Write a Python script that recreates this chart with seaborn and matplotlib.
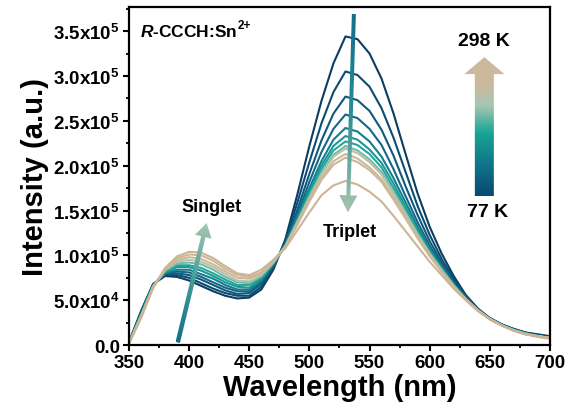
import numpy as np
import pandas as pd
import matplotlib
matplotlib.use("Agg")
import matplotlib.pyplot as plt
import seaborn as sns
from matplotlib.colors import LinearSegmentedColormap
from matplotlib.patches import Polygon
from matplotlib.ticker import MultipleLocator

# ------------------------------------------------------------
# Data (intensity in units of 1e5)
# spec_t0 = 77 K ... spec_t11 = 298 K
# ------------------------------------------------------------
wavelength = list(range(350, 701, 10))

spec_t0 = [0.03, 0.38, 0.68, 0.77, 0.76, 0.72, 0.66, 0.60, 0.55, 0.52, 0.53, 0.62,
           0.84, 1.18, 1.68, 2.22, 2.72, 3.14, 3.44, 3.41, 3.25, 2.97, 2.58, 2.13,
           1.69, 1.32, 1.02, 0.77, 0.56, 0.41, 0.30, 0.23, 0.18, 0.14, 0.12, 0.10]
spec_t1 = [0.03, 0.37, 0.68, 0.78, 0.78, 0.75, 0.69, 0.63, 0.58, 0.55, 0.55, 0.65,
           0.86, 1.16, 1.59, 2.04, 2.47, 2.82, 3.05, 3.01, 2.88, 2.64, 2.31, 1.93,
           1.55, 1.23, 0.96, 0.74, 0.55, 0.40, 0.30, 0.23, 0.18, 0.14, 0.11, 0.09]
spec_t2 = [0.03, 0.37, 0.67, 0.79, 0.80, 0.78, 0.73, 0.67, 0.61, 0.57, 0.58, 0.68,
           0.88, 1.14, 1.51, 1.91, 2.28, 2.58, 2.77, 2.73, 2.61, 2.40, 2.11, 1.77,
           1.45, 1.16, 0.92, 0.71, 0.54, 0.40, 0.30, 0.23, 0.17, 0.13, 0.11, 0.09]
spec_t3 = [0.03, 0.36, 0.67, 0.80, 0.82, 0.81, 0.76, 0.70, 0.64, 0.60, 0.60, 0.70,
           0.89, 1.13, 1.46, 1.82, 2.15, 2.41, 2.57, 2.53, 2.41, 2.23, 1.96, 1.66,
           1.37, 1.11, 0.89, 0.69, 0.53, 0.39, 0.30, 0.23, 0.17, 0.13, 0.10, 0.08]
spec_t4 = [0.03, 0.35, 0.67, 0.80, 0.84, 0.84, 0.79, 0.74, 0.67, 0.62, 0.62, 0.72,
           0.90, 1.12, 1.43, 1.75, 2.05, 2.29, 2.42, 2.38, 2.27, 2.10, 1.86, 1.59,
           1.32, 1.07, 0.87, 0.68, 0.52, 0.39, 0.29, 0.22, 0.17, 0.13, 0.10, 0.08]
spec_t5 = [0.03, 0.34, 0.66, 0.81, 0.87, 0.87, 0.83, 0.77, 0.70, 0.65, 0.64, 0.74,
           0.91, 1.11, 1.40, 1.71, 2.00, 2.22, 2.33, 2.29, 2.18, 2.03, 1.80, 1.54,
           1.28, 1.05, 0.86, 0.67, 0.52, 0.39, 0.29, 0.22, 0.17, 0.13, 0.10, 0.08]
spec_t6 = [0.02, 0.34, 0.66, 0.82, 0.89, 0.89, 0.86, 0.80, 0.73, 0.67, 0.67, 0.75,
           0.91, 1.11, 1.39, 1.68, 1.96, 2.17, 2.27, 2.23, 2.13, 1.98, 1.75, 1.51,
           1.26, 1.04, 0.85, 0.67, 0.52, 0.39, 0.29, 0.22, 0.17, 0.13, 0.10, 0.08]
spec_t7 = [0.02, 0.33, 0.65, 0.83, 0.91, 0.92, 0.90, 0.84, 0.76, 0.70, 0.69, 0.77,
           0.92, 1.10, 1.37, 1.66, 1.92, 2.12, 2.22, 2.17, 2.07, 1.93, 1.71, 1.48,
           1.24, 1.02, 0.84, 0.66, 0.51, 0.39, 0.29, 0.22, 0.17, 0.13, 0.10, 0.08]
spec_t8 = [0.02, 0.32, 0.65, 0.84, 0.93, 0.95, 0.93, 0.87, 0.79, 0.72, 0.71, 0.78,
           0.92, 1.10, 1.37, 1.64, 1.90, 2.10, 2.19, 2.14, 2.04, 1.90, 1.69, 1.46,
           1.23, 1.02, 0.83, 0.66, 0.51, 0.39, 0.29, 0.22, 0.16, 0.12, 0.10, 0.08]
spec_t9 = [0.02, 0.32, 0.65, 0.84, 0.95, 0.98, 0.96, 0.90, 0.82, 0.75, 0.74, 0.80,
           0.93, 1.10, 1.35, 1.62, 1.86, 2.05, 2.13, 2.08, 1.98, 1.85, 1.65, 1.43,
           1.21, 1.00, 0.82, 0.66, 0.51, 0.39, 0.29, 0.22, 0.16, 0.12, 0.10, 0.08]
spec_t10 = [0.02, 0.31, 0.64, 0.85, 0.97, 1.01, 1.00, 0.94, 0.85, 0.78, 0.76, 0.81,
            0.94, 1.10, 1.34, 1.60, 1.84, 2.01, 2.09, 2.04, 1.95, 1.82, 1.62, 1.41,
            1.19, 0.99, 0.82, 0.65, 0.51, 0.39, 0.29, 0.22, 0.16, 0.12, 0.10, 0.08]
spec_t11 = [0.02, 0.30, 0.64, 0.86, 0.99, 1.04, 1.03, 0.97, 0.88, 0.80, 0.78, 0.84,
            0.95, 1.08, 1.28, 1.48, 1.67, 1.78, 1.83, 1.79, 1.71, 1.60, 1.44, 1.27,
            1.10, 0.93, 0.78, 0.63, 0.50, 0.38, 0.29, 0.22, 0.16, 0.12, 0.09, 0.07]

spectra = [spec_t0, spec_t1, spec_t2, spec_t3, spec_t4, spec_t5,
           spec_t6, spec_t7, spec_t8, spec_t9, spec_t10, spec_t11]
curve_names = [f"T{i}" for i in range(len(spectra))]

line_colors = ["#0b3d63", "#0d4b72", "#10597c", "#136886", "#157d8e", "#199896",
               "#22a89b", "#6fbcab", "#bcc0a5", "#c9b99c", "#ccb799", "#cbb596"]

x_ticks = [350, 400, 450, 500, 550, 600, 650, 700]
y_ticks = [0, 5e4, 1e5, 1.5e5, 2e5, 2.5e5, 3e5, 3.5e5]
y_tick_labels = ["0.0", "5.0x10$^4$", "1.0x10$^5$", "1.5x10$^5$",
                 "2.0x10$^5$", "2.5x10$^5$", "3.0x10$^5$", "3.5x10$^5$"]

rows = []
for name, spec in zip(curve_names, spectra):
    for wl, val in zip(wavelength, spec):
        rows.append({"wavelength": wl, "intensity": val * 1e5, "curve": name})
df = pd.DataFrame(rows)

# ------------------------------------------------------------
# Style
# ------------------------------------------------------------
sns.set_theme(style="ticks")
plt.rcParams["font.family"] = ["Liberation Sans", "DejaVu Sans"]
plt.rcParams["font.weight"] = "bold"
plt.rcParams["text.color"] = "black"
plt.rcParams["axes.labelcolor"] = "black"
plt.rcParams["xtick.color"] = "black"
plt.rcParams["ytick.color"] = "black"
plt.rcParams["mathtext.fontset"] = "custom"
plt.rcParams["mathtext.rm"] = "Liberation Sans:bold"
plt.rcParams["mathtext.it"] = "Liberation Sans:italic:bold"
plt.rcParams["mathtext.bf"] = "Liberation Sans:bold"
plt.rcParams["mathtext.default"] = "rm"

fig = plt.figure(figsize=(5.71, 4.14), dpi=100)
ax = fig.add_axes([0.226, 0.164, 0.737, 0.817])

sns.lineplot(
    data=df, x="wavelength", y="intensity", hue="curve",
    hue_order=curve_names, palette=line_colors,
    linewidth=1.5, legend=False, ax=ax
)

XLIM = (350, 700)
YLIM = (0, 3.77e5)
ax.set_xlim(*XLIM)
ax.set_ylim(*YLIM)
ax.set_xticks(x_ticks)
ax.set_yticks(y_ticks)
ax.set_yticklabels(y_tick_labels)
ax.xaxis.set_minor_locator(MultipleLocator(25))
ax.yaxis.set_minor_locator(MultipleLocator(2.5e4))
ax.tick_params(which="major", direction="out", length=4.5, width=1.5,
               labelsize=13.5, pad=2, color="black", labelcolor="black")
ax.tick_params(which="minor", direction="out", length=2.5, width=1.3, color="black")
for spine in ax.spines.values():
    spine.set_linewidth(1.6)
    spine.set_color("black")

ax.set_xlabel("Wavelength (nm)", fontsize=21, fontweight="bold", labelpad=1)
ax.set_ylabel("Intensity (a.u.)", fontsize=21, fontweight="bold", labelpad=3)


# ------------------------------------------------------------
# Gradient arrows
# ------------------------------------------------------------
def gradient_arrow(ax, start, end, body_px, head_w_px, head_l_px, cmap, zorder=5):
    p0 = ax.transData.transform(start)
    p1 = ax.transData.transform(end)
    d = p1 - p0
    length = np.hypot(*d)
    u = d / length
    n = np.array([-u[1], u[0]])
    base = p1 - u * head_l_px
    pts = np.array([p0 + n * body_px / 2, base + n * body_px / 2,
                    base + n * head_w_px / 2, p1, base - n * head_w_px / 2,
                    base - n * body_px / 2, p0 - n * body_px / 2])
    data_pts = ax.transData.inverted().transform(pts)
    patch = Polygon(data_pts, closed=True, facecolor="none", edgecolor="none",
                    transform=ax.transData)
    ax.add_patch(patch)
    xmin, ymin = data_pts.min(axis=0)
    xmax, ymax = data_pts.max(axis=0)
    gx = np.linspace(xmin, xmax, 80)
    gy = np.linspace(ymin, ymax, 250)
    X, Y = np.meshgrid(gx, gy)
    P = ax.transData.transform(np.column_stack([X.ravel(), Y.ravel()]))
    t = np.clip(((P - p0) @ u) / length, 0, 1).reshape(X.shape)
    im = ax.imshow(t, extent=[xmin, xmax, ymin, ymax], origin="lower",
                   cmap=cmap, vmin=0, vmax=1, aspect="auto",
                   interpolation="bilinear", zorder=zorder)
    im.set_clip_path(patch)


singlet_cmap = LinearSegmentedColormap.from_list(
    "singlet", ["#12708a", "#3f9b98", "#a9c6b2"])
triplet_cmap = LinearSegmentedColormap.from_list(
    "triplet", ["#146e8a", "#2a8c95", "#a9c4ae"])
temp_cmap = LinearSegmentedColormap.from_list(
    "temp", [(0.0, "#0c4870"), (0.25, "#117a8c"), (0.45, "#17a594"),
             (0.65, "#a6c7b4"), (0.8, "#cbb99c"), (1.0, "#cdb99b")])

gradient_arrow(ax, (390.5, 0.03e5), (414.5, 1.36e5), 4.5, 17, 14, singlet_cmap)
gradient_arrow(ax, (537, 3.69e5), (532, 1.48e5), 4, 18, 17, triplet_cmap)
gradient_arrow(ax, (645.5, 1.66e5), (645.5, 3.21e5), 19, 40, 17, temp_cmap)

ax.set_xlim(*XLIM)
ax.set_ylim(*YLIM)

# ------------------------------------------------------------
# Annotations
# ------------------------------------------------------------
title = ax.text(359, 3.50e5, r"$\mathit{R}$-CCCH:Sn", fontsize=12.5,
                ha="left", va="center")
ax.annotate("2+", xy=(1.0, 0.85), xycoords=title, xytext=(0.5, 0),
            textcoords="offset points", fontsize=8.5, ha="left", va="center")
ax.text(419, 1.55e5, "Singlet", fontsize=13, ha="center", va="center")
ax.text(533.7, 1.27e5, "Triplet", fontsize=13, ha="center", va="center")
ax.text(645.5, 3.39e5, "298 K", fontsize=14, ha="center", va="center")
ax.text(648, 1.49e5, "77 K", fontsize=14, ha="center", va="center")

fig.savefig("out.png", dpi=100)
